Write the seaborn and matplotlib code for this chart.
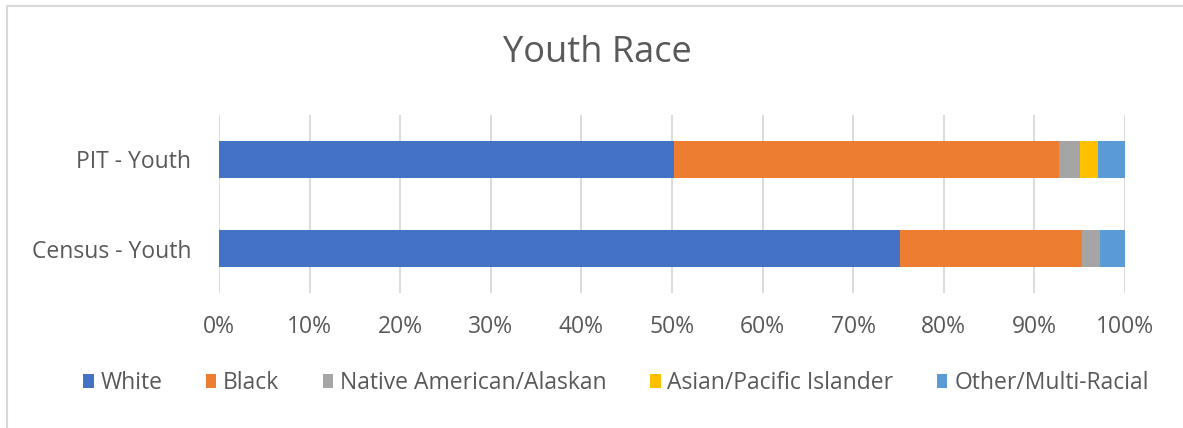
import matplotlib
matplotlib.use("Agg")
import matplotlib.pyplot as plt
import seaborn as sns
import pandas as pd
import numpy as np
from matplotlib.lines import Line2D
from matplotlib.patches import Patch

categories = ["PIT - Youth", "Census - Youth"]
races = ["White", "Black", "Native American/Alaskan", "Asian/Pacific Islander", "Other/Multi-Racial"]
white = [50.2, 75.2]
black = [42.5, 20.1]
native = [2.3, 1.9]
asian = [2.0, 0.0]
other = [3.0, 2.8]
colors = ["#4472C4", "#ED7D31", "#A5A5A5", "#FFC000", "#5B9BD5"]
xticks = [0, 10, 20, 30, 40, 50, 60, 70, 80, 90, 100]

sns.set_theme(style="white")
plt.rcParams["font.family"] = ["Open Sans", "DejaVu Sans"]
text_color = "#595959"

series = [white, black, native, asian, other]
cum = np.cumsum(np.array(series), axis=0)

fig = plt.figure(figsize=(11.83, 4.28), dpi=100)
ax = fig.add_axes([219/1183, 1 - 293/428, (1125 - 219)/1183, 178/428])

# draw stacked bars: widest cumulative first
for i in range(len(races) - 1, -1, -1):
    df = pd.DataFrame({"cat": categories, "val": cum[i]})
    sns.barplot(data=df, y="cat", x="val", orient="h", color=colors[i],
                width=0.41, ax=ax, saturation=1, edgecolor="none", linewidth=0)

ax.set_xlim(0, 100)
ax.set_ylim(1.5, -0.5)
ax.set_xticks(xticks)
ax.set_xticklabels([f"{t}%" for t in xticks], color=text_color, fontsize=16.5)
ax.set_yticklabels(categories, color=text_color, fontsize=16.5)
ax.tick_params(axis="x", length=0, pad=16)
ax.tick_params(axis="y", length=0, pad=20)
ax.set_xlabel("")
ax.set_ylabel("")
for s in ax.spines.values():
    s.set_visible(False)
ax.grid(axis="x", color="#D9D9D9", linewidth=1.3)
ax.grid(axis="y", visible=False)
ax.set_axisbelow(True)

fig.text(597/1183, 1 - 53/428, "Youth Race", ha="center", va="center",
         fontsize=26, color=text_color)

handles = [Patch(facecolor=c, edgecolor="none") for c in colors]
fig.legend(handles, races, loc="center", bbox_to_anchor=(616/1183, 1 - 383/428),
           ncol=5, frameon=False, fontsize=16.5, labelcolor=text_color,
           handlelength=0.45, handleheight=0.6, handletextpad=0.3, columnspacing=1.9)

# chart border (left and top visible)
fig.add_artist(Line2D([6.5/1183, 6.5/1183], [0, 1 - 5.5/428], transform=fig.transFigure,
                      color="#D9D9D9", linewidth=1.5))
fig.add_artist(Line2D([6.5/1183, 1], [1 - 5.5/428, 1 - 5.5/428], transform=fig.transFigure,
                      color="#D9D9D9", linewidth=1.5))

fig.savefig("out.png", dpi=100)
